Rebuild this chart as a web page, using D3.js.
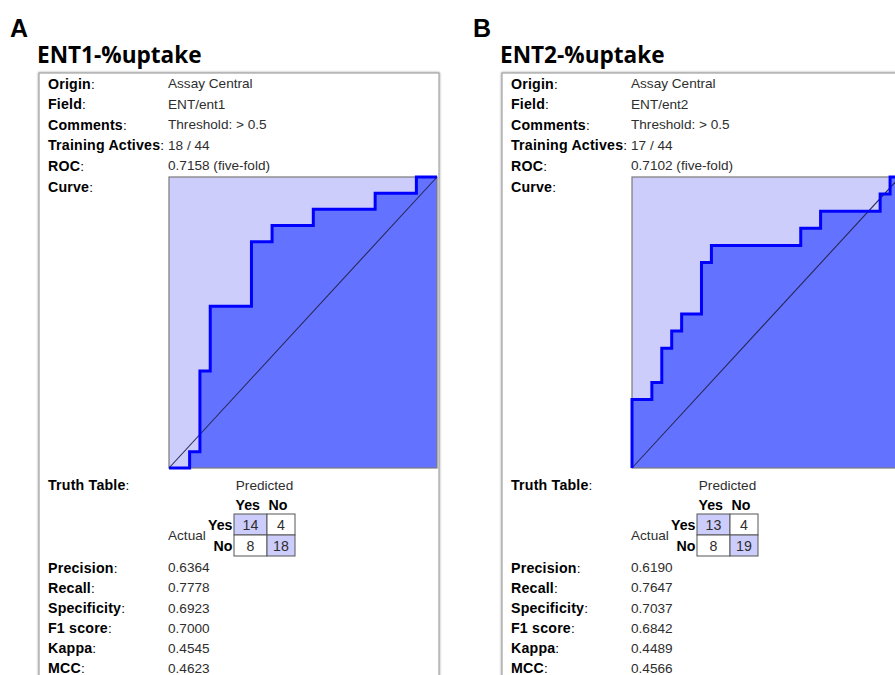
<!DOCTYPE html>
<html>
<head>
<meta charset="utf-8">
<script src="https://cdn.jsdelivr.net/npm/d3@7"></script>
<style>
  html, body { margin: 0; padding: 0; background: #fff; }
  svg { display: block; }
</style>
</head>
<body>
<svg id="fig" width="895" height="675"></svg>
<script>
// Model summary cards for two ENT uptake models
const panelLetters = ["A", "B"];
const modelTitles = ["ENT1-%uptake", "ENT2-%uptake"];
const infoLabels = ["Origin", "Field", "Comments", "Training Actives", "ROC", "Curve"];
const originValues = ["Assay Central", "Assay Central"];
const fieldValues = ["ENT/ent1", "ENT/ent2"];
const commentValues = ["Threshold: > 0.5", "Threshold: > 0.5"];
const trainingActives = [[18, 44], [17, 44]];
const rocValues = [0.7158, 0.7102];

// ROC step vertices as [false positives, true positives] counts
const rocPointsA = [[0,0],[2,0],[2,1],[3,1],[3,6],[4,6],[4,10],[8,10],[8,14],[10,14],
  [10,15],[14,15],[14,16],[20,16],[20,17],[24,17],[24,18],[26,18]];
const rocPointsB = [[0,0],[0,4],[2,4],[2,5],[3,5],[3,7],[4,7],[4,8],[5,8],[5,9],[7,9],
  [7,12],[8,12],[8,13],[17,13],[17,14],[19,14],[19,15],[25,15],[25,16],[26,16],[26,17],[27,17]];

// Confusion matrices: rows = actual (Yes, No), columns = predicted (Yes, No)
const truthTableA = [[14, 4], [8, 18]];
const truthTableB = [[13, 4], [8, 19]];
const truthHeaders = ["Yes", "No"];

const metricLabels = ["Precision", "Recall", "Specificity", "F1 score", "Kappa", "MCC"];
const metricsA = [0.6364, 0.7778, 0.6923, 0.7000, 0.4545, 0.4623];
const metricsB = [0.6190, 0.7647, 0.7037, 0.6842, 0.4489, 0.4566];

const panels = [
  { roc: rocPointsA, table: truthTableA, metrics: metricsA },
  { roc: rocPointsB, table: truthTableB, metrics: metricsB }
];

const svg = d3.select("#fig");
svg.append("rect").attr("width", 895).attr("height", 675).attr("fill", "#fff");

const FONT = "'Liberation Sans', Arial, Helvetica, sans-serif";
const FS = 13.6;
const FSB = 14.2;
const LIGHT = "#cdcdfc";
const DARK = "#6373ff";
const LINE = "#0000ff";
const VALUE_COLOR = "#2e2e2e";

const defs = svg.append("defs");
const flt = defs.append("filter").attr("id", "cardShadow")
  .attr("x", "-5%").attr("y", "-5%").attr("width", "110%").attr("height", "110%");
flt.append("feGaussianBlur").attr("in", "SourceAlpha").attr("stdDeviation", 1.2).attr("result", "b");
flt.append("feComponentTransfer").attr("in", "b").attr("result", "s")
  .append("feFuncA").attr("type", "linear").attr("slope", 0.45);
const merge = flt.append("feMerge");
merge.append("feMergeNode").attr("in", "s");
merge.append("feMergeNode").attr("in", "SourceGraphic");

function labelText(g, x, y, label) {
  const t = g.append("text").attr("x", x).attr("y", y)
    .attr("font-family", FONT).attr("font-size", FSB).attr("fill", "#000")
    .attr("dominant-baseline", "central");
  t.append("tspan").attr("font-weight", "bold").attr("letter-spacing", 0.2).text(label);
  t.append("tspan").attr("font-size", FS).text(":");
  return t;
}
function valueText(g, x, y, str, anchor) {
  return g.append("text").attr("x", x).attr("y", y)
    .attr("font-family", FONT).attr("font-size", FS).attr("fill", VALUE_COLOR)
    .attr("dominant-baseline", "central")
    .attr("text-anchor", anchor || "start").text(str);
}

panels.forEach((p, i) => {
  const ox = 39 + i * 463;          // card left edge
  const g = svg.append("g");

  // panel letter and model title
  g.append("text").attr("x", ox - 29).attr("y", 36.5)
    .attr("font-family", FONT).attr("font-weight", "bold").attr("font-size", 25)
    .attr("fill", "#000").text(panelLetters[i]);
  g.append("text").attr("x", ox - 2).attr("y", 63)
    .attr("font-family", "'Open Sans', 'Noto Sans', sans-serif").attr("font-weight", "bold")
    .attr("font-size", 22.6).attr("fill", "#000").text(modelTitles[i]);

  // card
  g.append("rect").attr("x", ox).attr("y", 73).attr("width", 400).attr("height", 640)
    .attr("fill", "#fff").attr("stroke", "#a9a9a9").attr("stroke-width", 1.3)
    .attr("filter", "url(#cardShadow)");

  const lx = ox + 9, vx = ox + 129;
  const info = [originValues[i], fieldValues[i], commentValues[i],
    trainingActives[i][0] + " / " + trainingActives[i][1],
    rocValues[i].toFixed(4) + " (five-fold)", null];
  const rowY = d3.scaleLinear().domain([0, 1]).range([83.5, 104.1]);
  infoLabels.forEach((lab, k) => {
    labelText(g, lx, rowY(k), lab);
    if (info[k] !== null) valueText(g, vx, rowY(k), info[k]);
  });

  // ROC curve
  const positives = p.table[0][0] + p.table[0][1];
  const negatives = p.table[1][0] + p.table[1][1];
  const x = d3.scaleLinear().domain([0, negatives]).range([ox + 130, ox + 398]);
  const y = d3.scaleLinear().domain([0, positives]).range([468, 177]);

  const plot = g.append("g");
  plot.append("rect").attr("x", x(0)).attr("y", y(positives))
    .attr("width", x(negatives) - x(0)).attr("height", y(0) - y(positives))
    .attr("fill", LIGHT);
  plot.append("path").datum(p.roc)
    .attr("d", d3.area().x(d => x(d[0])).y0(y(0)).y1(d => y(d[1])))
    .attr("fill", DARK);
  plot.append("rect").attr("x", x(0)).attr("y", y(positives))
    .attr("width", x(negatives) - x(0)).attr("height", y(0) - y(positives))
    .attr("fill", "none").attr("stroke", "#7a7a7a").attr("stroke-width", 1.2);
  plot.append("line").attr("x1", x(0)).attr("y1", y(0))
    .attr("x2", x(negatives)).attr("y2", y(positives))
    .attr("stroke", "#28285a").attr("stroke-width", 1.1);
  plot.append("path").datum(p.roc)
    .attr("d", d3.line().x(d => x(d[0])).y(d => y(d[1])))
    .attr("fill", "none").attr("stroke", LINE).attr("stroke-width", 3)
    .attr("stroke-linejoin", "miter");

  // truth table
  labelText(g, lx, 485, "Truth Table");
  const tx = ox + 195;
  const colW = [33, 28];
  const colX = [tx, tx + colW[0], tx + colW[0] + colW[1]];
  const rowTop = [514, 535, 556];
  valueText(g, (colX[0] + colX[2]) / 2, 485, "Predicted", "middle");
  truthHeaders.forEach((h, c) => {
    g.append("text").attr("x", colX[c] + 1.5).attr("y", 505)
      .attr("font-family", FONT).attr("font-size", FSB).attr("font-weight", "bold")
      .attr("dominant-baseline", "central").text(h);
    g.append("text").attr("x", tx - 1.5).attr("y", (rowTop[c] + rowTop[c + 1]) / 2)
      .attr("font-family", FONT).attr("font-size", FSB).attr("font-weight", "bold")
      .attr("text-anchor", "end").attr("dominant-baseline", "central").text(h);
  });
  valueText(g, vx, 535.5, "Actual");
  p.table.forEach((row, r) => {
    row.forEach((v, c) => {
      g.append("rect").attr("x", colX[c]).attr("y", rowTop[r])
        .attr("width", colW[c]).attr("height", rowTop[r + 1] - rowTop[r])
        .attr("fill", r === c ? LIGHT : "#fff")
        .attr("stroke", "#555").attr("stroke-width", 1);
      valueText(g, colX[c] + colW[c] / 2, (rowTop[r] + rowTop[r + 1]) / 2 + 0.5, v, "middle")
        .attr("font-size", 14.2);
    });
  });

  // summary statistics
  const mY = d3.scaleLinear().domain([0, 1]).range([567.8, 587.9]);
  metricLabels.forEach((lab, k) => {
    labelText(g, lx, mY(k), lab);
    valueText(g, vx, mY(k), p.metrics[k].toFixed(4));
  });
});
</script>
</body>
</html>
